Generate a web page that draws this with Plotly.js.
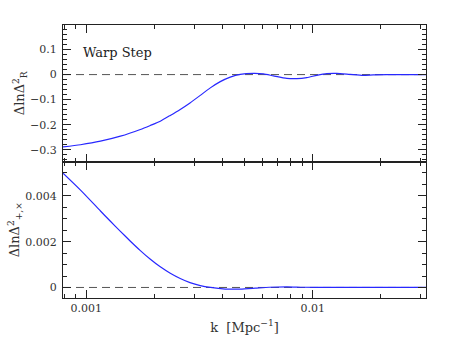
<!DOCTYPE html>
<html>
<head>
<meta charset="utf-8">
<script src="https://cdn.plot.ly/plotly-3.0.1.min.js"></script>
<style>
  html, body { margin: 0; padding: 0; background: #fff; }
  #chart { width: 450px; height: 343px; }
</style>
</head>
<body>
<div id="chart"></div>
<script>
// k in Mpc^-1
const kScalar = [0.00079, 0.000944, 0.001156, 0.001416, 0.001734, 0.001919, 0.002123, 0.00235,
  0.0026, 0.002872, 0.003188, 0.00353, 0.003906, 0.004323, 0.004784, 0.005472, 0.006057,
  0.006705, 0.007683, 0.008502, 0.00941, 0.010414, 0.011526, 0.012755, 0.014598, 0.016705,
  0.018493, 0.021184, 0.0316];
const dlnScalar = [-0.289, -0.280, -0.266, -0.246, -0.219, -0.203, -0.186, -0.163,
  -0.139, -0.113, -0.083, -0.053, -0.028, -0.010, 0.001, 0.005, 0.003,
  -0.005, -0.015, -0.016, -0.012, -0.003, 0.004, 0.005, 0.001, -0.003,
  -0.001, 0, 0];

const kTensor = [0.00079, 0.000944, 0.001156, 0.001279, 0.001416, 0.001567, 0.001734, 0.00192,
  0.002123, 0.00235, 0.0026, 0.002872, 0.003188, 0.00353, 0.00411, 0.004784, 0.005574,
  0.006419, 0.007705, 0.009064, 0.012, 0.02, 0.0316];
const dlnTensor = [0.00499, 0.00425, 0.00334, 0.00289, 0.00245, 0.00202, 0.00161, 0.00123,
  0.00090, 0.00062, 0.00039, 0.00021, 0.00008, 0.0, -0.00007, -0.00007, -0.00003,
  0.00001, 0.00003, 0.00001, 0, 0, 0];

const kRange = [0.00079, 0.0316];
const panelLabel = 'Warp Step';

const serif = 'DejaVu Serif, serif';
const axisCol = '#222';

const curveTop = {
  x: kScalar, y: dlnScalar, xaxis: 'x2', yaxis: 'y2',
  type: 'scatter', mode: 'lines',
  line: { color: '#2828ff', width: 1.2, shape: 'spline', smoothing: 0.6 },
  hoverinfo: 'skip'
};
const curveBot = {
  x: kTensor, y: dlnTensor, xaxis: 'x', yaxis: 'y',
  type: 'scatter', mode: 'lines',
  line: { color: '#2828ff', width: 1.2, shape: 'spline', smoothing: 0.6 },
  hoverinfo: 'skip'
};

function xAxis(anchor, labels) {
  return {
    type: 'log', anchor: anchor,
    range: [Math.log10(kRange[0]), Math.log10(kRange[1])],
    dtick: 1, exponentformat: 'none',
    showticklabels: labels,
    ticks: 'inside', ticklen: 8, tickwidth: 1, tickcolor: axisCol,
    minor: { ticks: 'inside', ticklen: 4, tickwidth: 1, tickcolor: axisCol },
    showline: true, linecolor: axisCol, linewidth: 1, mirror: 'ticks',
    showgrid: false, zeroline: false,
    tickfont: { family: serif, size: 11, color: '#333' }
  };
}

const layout = {
  width: 450, height: 343,
  margin: { l: 63, r: 24, t: 25, b: 45 },
  paper_bgcolor: '#fff', plot_bgcolor: '#fff',
  showlegend: false,
  xaxis: Object.assign(xAxis('y', true), {
    title: { text: 'k  [Mpc<sup>−1</sup>]', font: { family: serif, size: 13, color: '#333' }, standoff: 8 }
  }),
  xaxis2: Object.assign(xAxis('y2', false), { matches: 'x' }),
  yaxis: {
    domain: [0, 0.5], range: [-0.00046, 0.0055],
    dtick: 0.002, tick0: 0, exponentformat: 'none',
    ticks: 'inside', ticklen: 8, tickwidth: 1, tickcolor: axisCol,
    minor: { dtick: 0.0005, ticks: 'inside', ticklen: 4, tickwidth: 1, tickcolor: axisCol },
    showline: true, linecolor: axisCol, linewidth: 1, mirror: 'ticks',
    showgrid: false, zeroline: false, ticklabelstandoff: 3,
    tickfont: { family: serif, size: 11, color: '#333' },
    title: { text: 'ΔlnΔ<sup>2</sup><sub>+,×</sub>', font: { family: serif, size: 13, color: '#333' }, standoff: 2 }
  },
  yaxis2: {
    domain: [0.5, 1], range: [-0.347, 0.198],
    dtick: 0.1, tick0: 0,
    ticks: 'inside', ticklen: 8, tickwidth: 1, tickcolor: axisCol,
    minor: { dtick: 0.02, ticks: 'inside', ticklen: 4, tickwidth: 1, tickcolor: axisCol },
    showline: true, linecolor: axisCol, linewidth: 1, mirror: 'ticks',
    showgrid: false, zeroline: false, ticklabelstandoff: 3,
    tickfont: { family: serif, size: 11, color: '#333' },
    title: { text: 'ΔlnΔ<sup>2</sup><sub>R</sub>', font: { family: serif, size: 13, color: '#333' }, standoff: 2 }
  },
  shapes: [
    { type: 'line', xref: 'x2 domain', yref: 'y2', x0: 0, x1: 1, y0: 0, y1: 0,
      line: { color: '#555', width: 1, dash: '8px,5px' }, layer: 'below' },
    { type: 'line', xref: 'x domain', yref: 'y', x0: 0, x1: 1, y0: 0, y1: 0,
      line: { color: '#555', width: 1, dash: '8px,5px' }, layer: 'below' }
  ],
  annotations: [
    { text: panelLabel, xref: 'x2 domain', yref: 'y2 domain', x: 0.05, y: 0.8,
      xanchor: 'left', yanchor: 'middle', showarrow: false,
      font: { family: serif, size: 13, color: '#222' } }
  ]
};

Plotly.newPlot('chart', [curveTop, curveBot], layout, { staticPlot: true, displayModeBar: false });
</script>
</body>
</html>
